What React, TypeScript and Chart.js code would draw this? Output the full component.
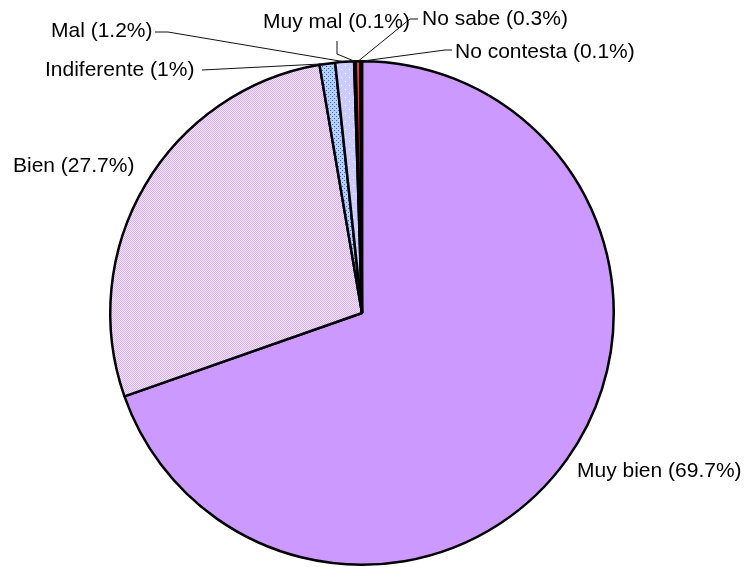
import React, { useEffect, useRef } from "react";
import { Chart, registerables } from "chart.js";

Chart.register(...registerables);

const categories = ["Muy bien", "Bien", "Indiferente", "Mal", "Muy mal", "No sabe", "No contesta"];
const values = [69.7, 27.7, 1, 1.2, 0.1, 0.3, 0.1];

// label layout: text left x, text baseline y, leader bend points (from label toward slice)
const labelLayout = [
  { x: 577, y: 477, leader: null as null | number[][] },
  { x: 13, y: 172, leader: null as null | number[][] },
  { x: 45, y: 76, leader: [[202, 70]] },
  { x: 51, y: 37, leader: [[155, 32], [168, 32]] },
  { x: 263, y: 28, leader: [[337, 41], [337, 54]] },
  { x: 422, y: 25, leader: [[418, 19], [410, 19]] },
  { x: 455, y: 58, leader: [[452, 50], [445, 50]] },
];

function makePattern(size: number, bg: string, dots: [number, number, string][]) {
  const c = document.createElement("canvas");
  c.width = size;
  c.height = size;
  const g = c.getContext("2d")!;
  g.fillStyle = bg;
  g.fillRect(0, 0, size, size);
  for (const [x, y, col] of dots) {
    g.fillStyle = col;
    g.fillRect(x, y, 1, 1);
  }
  return g.createPattern(c, "repeat")!;
}

const labelPlugin = {
  id: "pieLabels",
  afterDraw(chart: any) {
    const ctx = chart.ctx;
    const meta = chart.getDatasetMeta(0);
    ctx.save();
    ctx.font = "21px 'Liberation Sans', Arial, sans-serif";
    ctx.fillStyle = "#000";
    ctx.textBaseline = "alphabetic";
    ctx.textAlign = "left";
    ctx.strokeStyle = "#111";
    ctx.lineWidth = 1;
    meta.data.forEach((arc: any, i: number) => {
      const lay = labelLayout[i];
      const text = `${categories[i]} (${values[i]}%)`;
      ctx.fillText(text, lay.x, lay.y);
      if (lay.leader) {
        const p = arc.getProps(["x", "y", "startAngle", "endAngle", "outerRadius"], true);
        const mid = (p.startAngle + p.endAngle) / 2;
        const ex = p.x + Math.cos(mid) * p.outerRadius;
        const ey = p.y + Math.sin(mid) * p.outerRadius;
        ctx.beginPath();
        ctx.moveTo(lay.leader[0][0], lay.leader[0][1]);
        for (let k = 1; k < lay.leader.length; k++) ctx.lineTo(lay.leader[k][0], lay.leader[k][1]);
        ctx.lineTo(ex, ey);
        ctx.stroke();
      }
    });
    ctx.restore();
  },
};

export default function App() {
  const ref = useRef<HTMLCanvasElement>(null);
  useEffect(() => {
    if (!ref.current) return;
    const bienPat = makePattern(2, "#F3E8FF", [[0, 0, "#D6ADFF"], [1, 1, "#D6ADFF"]]);
    const indPat = makePattern(4, "#B8D0FF", [[0, 0, "#2F6FE8"], [2, 2, "#2F6FE8"]]);
    const malPat = makePattern(8, "#CCCCFF", [[1, 1, "#FFFFFF"], [5, 5, "#FFFFFF"]]);
    const chart = new Chart(ref.current, {
      type: "pie",
      data: {
        labels: categories,
        datasets: [
          {
            data: values,
            backgroundColor: ["#CC99FF", bienPat, indPat, malPat, "#F0F0FF", "#FF3B30", "#FFCCCC"] as any,
            borderColor: "#000",
            borderWidth: 2.5,
          },
        ],
      },
      options: {
        animation: false,
        responsive: true,
        maintainAspectRatio: false,
        layout: { padding: { left: 109, right: 131, top: 60, bottom: 1 } },
        plugins: { legend: { display: false }, tooltip: { enabled: false } },
      },
      plugins: [labelPlugin],
    });
    return () => chart.destroy();
  }, []);
  return (
    <div style={{ position: "fixed", left: 0, top: 0, width: 746, height: 567, background: "#fff" }}>
      <canvas ref={ref} />
    </div>
  );
}
